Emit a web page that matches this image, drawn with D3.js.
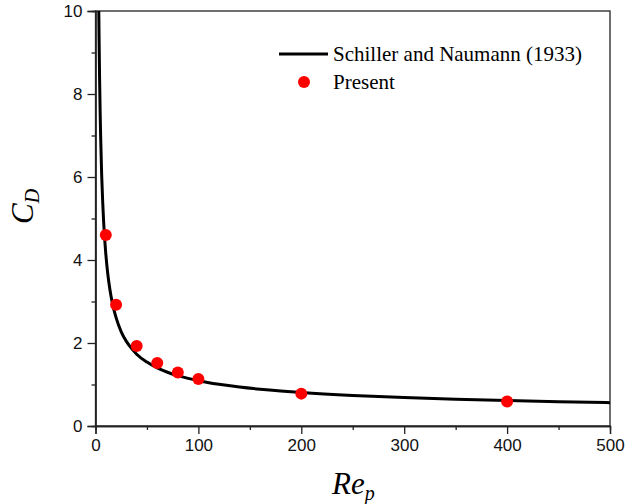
<!DOCTYPE html>
<html><head><meta charset="utf-8">
<script src="https://cdn.jsdelivr.net/npm/d3@7"></script>
<style>body{margin:0;background:#fff}svg{display:block}</style>
</head><body><svg id="c" width="626" height="504"></svg>
<script>
// Schiller and Naumann (1933) curve
const curveRe = [3.2,3.5,4,4.5,5,6,7,8,9,10,12,14,16,18,20,25,30,35,40,50,60,70,80,90,100,120,140,160,180,200,250,300,350,400,450,500];
const curveCd = [10.0,9.29,8.33,7.58,6.98,6.05,5.39,4.88,4.48,4.15,3.65,3.29,3.01,2.79,2.61,2.27,2.04,1.87,1.73,1.54,1.40,1.295,1.213,1.147,1.092,1.005,0.938,0.885,0.842,0.806,0.736,0.684,0.644,0.612,0.585,0.563];
// Present results
const presentRe = [10,20,40,60,80,100,200,400];
const presentCd = [4.6,2.92,1.93,1.52,1.29,1.13,0.78,0.59];
const xTicks = [0,100,200,300,400,500];
const yTicks = [0,2,4,6,8,10];
const legendLabels = ["Schiller and Naumann (1933)","Present"];

const svg = d3.select("#c");
const L=95.5,R=610,T=11,B=426;
const x = d3.scaleLinear().domain([0,500]).range([L,R]);
const y = d3.scaleLinear().domain([0,10]).range([B,T]);
const axisColor="#222";

// frame
svg.append("rect").attr("x",L).attr("y",T).attr("width",R-L).attr("height",B-T)
  .attr("fill","none").attr("stroke",axisColor).attr("stroke-width",1.3);

const xg = svg.append("g").attr("transform",`translate(0,${B})`)
  .call(d3.axisBottom(x).tickValues(xTicks).tickSize(8).tickPadding(5));
const xm = svg.append("g").attr("transform",`translate(0,${B})`)
  .call(d3.axisBottom(x).tickValues(d3.range(50,500,100)).tickSize(4).tickFormat(""));
const yg = svg.append("g").attr("transform",`translate(${L},0)`)
  .call(d3.axisLeft(y).tickValues(yTicks).tickSize(8).tickPadding(5));
const ym = svg.append("g").attr("transform",`translate(${L},0)`)
  .call(d3.axisLeft(y).tickValues(d3.range(1,10,2)).tickSize(4).tickFormat(""));
[xg,xm,yg,ym].forEach(g=>{
  g.select(".domain").attr("stroke",axisColor).attr("stroke-width",1.3);
  g.selectAll(".tick line").attr("stroke",axisColor).attr("stroke-width",1.3);
  g.selectAll("text").attr("font-family","'Liberation Sans', Arial, sans-serif").attr("font-size",17).attr("fill","#111");
});

// curve
const pts = curveRe.map((r,i)=>[r,curveCd[i]]);
svg.append("path").datum(pts)
  .attr("d",d3.line().x(d=>x(d[0])).y(d=>y(d[1])).curve(d3.curveMonotoneX))
  .attr("fill","none").attr("stroke","#000").attr("stroke-width",3);

// points
svg.selectAll("circle.p").data(presentRe.map((r,i)=>[r,presentCd[i]])).enter()
  .append("circle").attr("class","p").attr("cx",d=>x(d[0])).attr("cy",d=>y(d[1]))
  .attr("r",6).attr("fill","#ff0000");

// legend
svg.append("line").attr("x1",279).attr("x2",328).attr("y1",54).attr("y2",54)
  .attr("stroke","#000").attr("stroke-width",3);
svg.append("circle").attr("cx",304).attr("cy",82).attr("r",6).attr("fill","#ff0000");
const lf="'Liberation Serif','Times New Roman',serif";
svg.append("text").attr("x",333).attr("y",61).attr("font-family",lf).attr("font-size",21).text(legendLabels[0]);
svg.append("text").attr("x",333).attr("y",89).attr("font-family",lf).attr("font-size",21).text(legendLabels[1]);

// axis titles
const xt = svg.append("text").attr("x",332).attr("y",494).attr("font-family",lf)
  .attr("font-style","italic").attr("font-size",31);
xt.append("tspan").text("Re");
xt.append("tspan").attr("font-size",20).attr("dy",6).text("p");

const yt = svg.append("text").attr("transform","translate(33,224) rotate(-90)")
  .attr("font-family",lf).attr("font-style","italic").attr("font-size",31);
yt.append("tspan").text("C");
yt.append("tspan").attr("font-size",20).attr("dy",6).text("D");
</script></body></html>
